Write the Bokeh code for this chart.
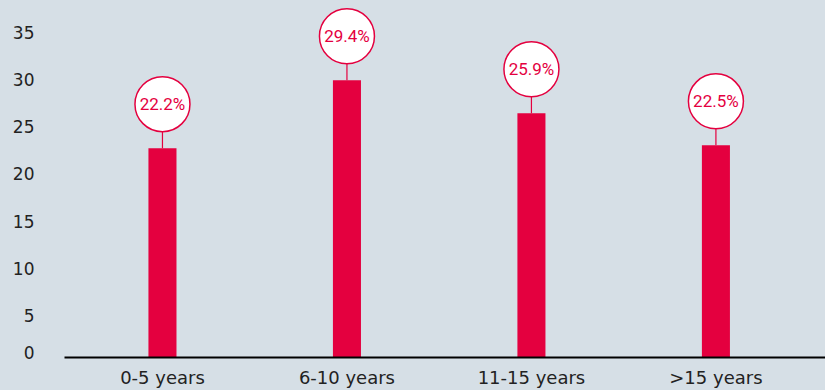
from bokeh.plotting import figure
from bokeh.models import ColumnDataSource, Range1d, FixedTicker
from bokeh.core.properties import value
from bokeh.embed import file_html
from bokeh.resources import INLINE

# ---- data ----
categories = ["0-5 years", "6-10 years", "11-15 years", ">15 years"]
values = [22.2, 29.4, 25.9, 22.5]
value_labels = ["22.2%", "29.4%", "25.9%", "22.5%"]
y_ticks = [0, 5, 10, 15, 20, 25, 30, 35]

# ---- style ----
BG = "#d6dfe6"
RED = "#e4003f"
TXT = "#222222"
AXFONT = "DejaVu Sans"
BUBFONT = "Roboto"

W, H = 825, 390
BORDER_L, BORDER_B = 64, 33
frame_h = H - BORDER_B
y_end = 37.86
px_per_unit = frame_h / y_end
bubble_off = 44 / px_per_unit        # bubble center above bar top
bubble_r_units = 27.5 / px_per_unit  # bubble radius in data units
label_nudge = 5 / px_per_unit        # tick labels sit ~5px off their ticks

xs = list(range(len(categories)))
src = ColumnDataSource(dict(
    x=xs,
    top=values,
    label=value_labels,
    cy=[v + bubble_off for v in values],
    cb=[v + bubble_off - bubble_r_units for v in values],
))

p = figure(width=W, height=H, output_backend="svg", toolbar_location=None,
           x_range=Range1d(-0.531, 3.594), y_range=Range1d(0, y_end),
           min_border_left=BORDER_L, min_border_right=0,
           min_border_top=0, min_border_bottom=BORDER_B)
p.background_fill_color = BG
p.border_fill_color = BG
p.outline_line_color = None
p.xgrid.visible = False
p.ygrid.visible = False

p.vbar(x="x", top="top", bottom=0, width=0.152, source=src,
       fill_color=RED, line_color=None)
p.segment(x0="x", y0="top", x1="x", y1="cb", source=src,
          line_color=RED, line_width=1.2)
p.scatter(x="x", y="cy", source=src, marker="circle", size=55,
          fill_color="white", line_color=RED, line_width=1.5)
p.text(x="x", y="cy", text="label", source=src, text_align="center",
       text_baseline="middle", text_color=RED, text_font_size="17px",
       text_font=value(BUBFONT))

# x axis
xa = p.xaxis[0]
xa.ticker = FixedTicker(ticks=xs)
xa.major_label_overrides = {i: c for i, c in zip(xs, categories)}
xa.axis_line_color = "black"
xa.axis_line_width = 2
xa.major_tick_line_color = None
xa.minor_tick_line_color = None
xa.major_tick_out = 0
xa.major_tick_in = 0
xa.minor_tick_out = 0
xa.minor_tick_in = 0
xa.major_label_standoff = 9
xa.major_label_text_font = AXFONT
xa.major_label_text_font_size = "18px"
xa.major_label_text_color = TXT

# y axis (labels nudged like the original: down by ~5px, "0" up by ~5px)
tick_pos = [t - label_nudge if t > 0 else t + label_nudge for t in y_ticks]
ya = p.yaxis[0]
ya.ticker = FixedTicker(ticks=tick_pos)
ya.major_label_overrides = {pos: str(t) for pos, t in zip(tick_pos, y_ticks)}
ya.axis_line_color = None
ya.major_tick_line_color = None
ya.minor_tick_line_color = None
ya.major_tick_out = 0
ya.major_tick_in = 0
ya.minor_tick_out = 0
ya.minor_tick_in = 0
ya.major_label_standoff = 30
ya.major_label_text_font = AXFONT
ya.major_label_text_font_size = "17px"
ya.major_label_text_color = TXT

html = file_html(p, INLINE)
html = html.replace("<head>", "<head><style>body{background:%s}</style>" % BG, 1)
open("out.html", "w").write(html)
